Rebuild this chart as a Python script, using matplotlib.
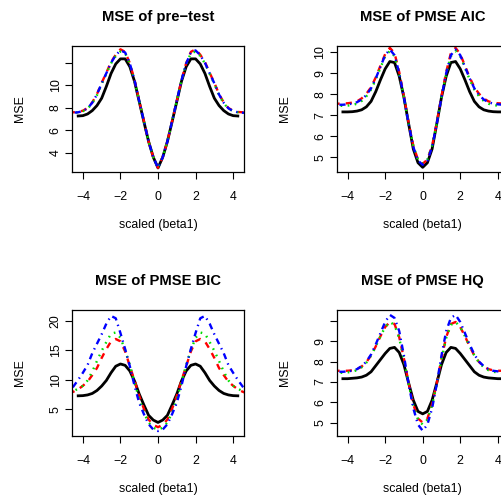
import numpy as np
import matplotlib.pyplot as plt

plt.rcParams['font.family'] = ['Liberation Sans', 'DejaVu Sans']

W, H = 502, 500

# grid of scaled beta1 values
x_full = np.linspace(-4.25, 4.25, 35)   # full model
x_wide = np.linspace(-4.75, 4.75, 39)   # selection-based estimators

# ---- pre-test ----
pre_full = [7.27, 7.3, 7.45, 7.75, 8.2, 8.85, 9.9, 11.05, 11.9, 12.35, 12.35, 11.65, 10.35, 8.55, 6.75, 5.0, 3.6,
            2.65,
            3.6, 5.0, 6.75, 8.55, 10.35, 11.65, 12.35, 12.35, 11.9, 11.05, 9.9, 8.85, 8.2, 7.75, 7.45, 7.3, 7.27]
pre_red = [7.6, 7.6, 7.63, 7.74, 7.98, 8.48, 9.22, 10.22, 11.12, 12.07, 12.72, 13.2, 12.97, 11.97, 10.47, 8.6, 6.8, 5.0, 3.6,
           2.66,
           3.6, 5.0, 6.8, 8.6, 10.47, 11.97, 12.97, 13.2, 12.72, 12.07, 11.12, 10.22, 9.22, 8.48, 7.98, 7.74, 7.63, 7.6, 7.6]
pre_green = [7.55, 7.55, 7.6, 7.7, 7.92, 8.4, 9.12, 10.12, 11.02, 11.95, 12.6, 13.0, 12.85, 11.9, 10.42, 8.6, 6.8, 5.0, 3.6,
             2.66,
             3.6, 5.0, 6.8, 8.6, 10.42, 11.9, 12.85, 13.0, 12.6, 11.95, 11.02, 10.12, 9.12, 8.4, 7.92, 7.7, 7.6, 7.55, 7.55]
pre_blue = [7.55, 7.56, 7.6, 7.71, 7.95, 8.45, 9.18, 10.18, 11.08, 12.0, 12.68, 13.1, 12.92, 11.93, 10.45, 8.6, 6.8, 5.0, 3.6,
            2.66,
            3.6, 5.0, 6.8, 8.6, 10.45, 11.93, 12.92, 13.1, 12.68, 12.0, 11.08, 10.18, 9.18, 8.45, 7.95, 7.71, 7.6, 7.56, 7.55]

# ---- PMSE AIC ----
aic_full = [7.16, 7.16, 7.17, 7.2, 7.26, 7.4, 7.66, 8.12, 8.68, 9.2, 9.55, 9.5, 8.85, 7.85, 6.6, 5.4, 4.75,
            4.53,
            4.75, 5.4, 6.6, 7.85, 8.85, 9.5, 9.55, 9.2, 8.68, 8.12, 7.66, 7.4, 7.26, 7.2, 7.17, 7.16, 7.16]
aic_red = [7.55, 7.55, 7.56, 7.57, 7.6, 7.66, 7.8, 8.02, 8.33, 8.8, 9.35, 9.9, 10.2, 9.95, 9.05, 7.9, 6.65, 5.55, 4.9,
           4.7,
           4.9, 5.55, 6.65, 7.9, 9.05, 9.95, 10.2, 9.9, 9.35, 8.8, 8.33, 8.02, 7.8, 7.66, 7.6, 7.57, 7.56, 7.55, 7.55]
aic_green = [7.45, 7.45, 7.45, 7.46, 7.48, 7.55, 7.68, 7.9, 8.22, 8.7, 9.25, 9.8, 10.05, 9.8, 8.95, 7.85, 6.6, 5.55, 4.9,
             4.7,
             4.9, 5.55, 6.6, 7.85, 8.95, 9.8, 10.05, 9.8, 9.25, 8.7, 8.22, 7.9, 7.68, 7.55, 7.48, 7.46, 7.45, 7.45, 7.45]
aic_blue = [7.5, 7.5, 7.5, 7.52, 7.55, 7.62, 7.75, 7.96, 8.28, 8.75, 9.3, 9.85, 10.12, 9.85, 9.0, 7.85, 6.6, 5.5, 4.85,
            4.65,
            4.85, 5.5, 6.6, 7.85, 9.0, 9.85, 10.12, 9.85, 9.3, 8.75, 8.28, 7.96, 7.75, 7.62, 7.55, 7.52, 7.5, 7.5, 7.5]

# ---- PMSE BIC ----
bic_full = [7.3, 7.33, 7.45, 7.7, 8.2, 8.95, 9.9, 11.2, 12.3, 12.68, 12.45, 11.5, 9.8, 7.6, 5.75, 4.0, 3.2,
            2.8,
            3.2, 4.0, 5.75, 7.6, 9.8, 11.5, 12.45, 12.68, 12.3, 11.2, 9.9, 8.95, 8.2, 7.7, 7.45, 7.33, 7.3]
bic_red = [7.7, 8.0, 8.4, 9.0, 9.7, 10.8, 12.0, 13.7, 15.2, 16.5, 16.9, 16.5, 14.8, 12.3, 9.9, 7.3, 5.1, 3.3, 2.4,
           2.0,
           2.4, 3.3, 5.1, 7.3, 9.9, 12.3, 14.8, 16.5, 16.9, 16.5, 15.2, 13.7, 12.0, 10.8, 9.7, 9.0, 8.4, 8.0, 7.7]
bic_green = [7.9, 8.1, 8.5, 9.0, 9.9, 11.4, 13.2, 14.9, 16.4, 17.8, 18.0, 17.1, 15.0, 12.5, 9.6, 6.7, 4.4, 2.8, 1.9,
             1.6,
             1.9, 2.8, 4.4, 6.7, 9.6, 12.5, 15.0, 17.1, 18.0, 17.8, 16.4, 14.9, 13.2, 11.4, 9.9, 9.0, 8.5, 8.1, 7.9]
bic_blue = [8.0, 8.9, 10.0, 11.2, 12.5, 14.5, 16.1, 17.7, 19.5, 20.8, 20.4, 17.9, 15.2, 12.3, 9.0, 6.1, 4.2, 2.5, 1.6,
            1.35,
            1.6, 2.5, 4.2, 6.1, 9.0, 12.3, 15.2, 17.9, 20.4, 20.8, 19.5, 17.7, 16.1, 14.5, 12.5, 11.2, 10.0, 8.9, 8.0]

# ---- PMSE HQ ----
hq_full = [7.16, 7.16, 7.18, 7.2, 7.24, 7.33, 7.5, 7.8, 8.1, 8.4, 8.65, 8.7, 8.45, 7.85, 6.95, 6.1, 5.55,
           5.43,
           5.55, 6.1, 6.95, 7.85, 8.45, 8.7, 8.65, 8.4, 8.1, 7.8, 7.5, 7.33, 7.24, 7.2, 7.18, 7.16, 7.16]
hq_red = [7.55, 7.55, 7.55, 7.55, 7.57, 7.63, 7.76, 7.98, 8.3, 8.75, 9.25, 9.7, 9.95, 9.85, 9.2, 8.15, 6.95, 5.9, 5.2,
          5.0,
          5.2, 5.9, 6.95, 8.15, 9.2, 9.85, 9.95, 9.7, 9.25, 8.75, 8.3, 7.98, 7.76, 7.63, 7.57, 7.55, 7.55, 7.55, 7.55]
hq_green = [7.45, 7.45, 7.45, 7.47, 7.5, 7.58, 7.72, 7.95, 8.3, 8.75, 9.25, 9.7, 9.95, 9.8, 9.15, 8.1, 6.9, 5.85, 5.15,
            4.9,
            5.15, 5.85, 6.9, 8.1, 9.15, 9.8, 9.95, 9.7, 9.25, 8.75, 8.3, 7.95, 7.72, 7.58, 7.5, 7.47, 7.45, 7.45, 7.45]
hq_blue = [7.5, 7.5, 7.5, 7.52, 7.55, 7.63, 7.78, 8.0, 8.35, 8.85, 9.4, 9.95, 10.3, 10.15, 9.5, 8.3, 6.9, 5.7, 4.9,
           4.6,
           4.9, 5.7, 6.9, 8.3, 9.5, 10.15, 10.3, 9.95, 9.4, 8.85, 8.35, 8.0, 7.78, 7.63, 7.55, 7.52, 7.5, 7.5, 7.5]

titles = ['MSE of pre\u2212test', 'MSE of PMSE AIC', 'MSE of PMSE BIC', 'MSE of PMSE HQ']
series = [(pre_full, pre_red, pre_green, pre_blue),
          (aic_full, aic_red, aic_green, aic_blue),
          (bic_full, bic_red, bic_green, bic_blue),
          (hq_full, hq_red, hq_green, hq_blue)]
ylims = [(2.29, 13.52), (4.31, 10.30), (0.51, 21.8), (4.34, 10.54)]
yticks = [[4, 6, 8, 10, 12], [5, 6, 7, 8, 9, 10], [5, 10, 15, 20], [5, 6, 7, 8, 9, 10]]
ylabels = [['4', '6', '8', '10', ''], ['5', '6', '7', '8', '9', '10'],
           ['5', '10', '15', '20'], ['5', '6', '7', '8', '9', '']]
xticks = [-4, -2, 0, 2, 4]

# plot regions in pixels: left, top, right, bottom
boxes = [(72, 45.7, 244, 172), (336.7, 45.7, 508.7, 172),
         (72, 310, 244, 436), (336.7, 310, 508.7, 436)]

fig = plt.figure(figsize=(W / 100, H / 100), dpi=100)

for i in range(4):
    l, t, r, b = boxes[i]
    ax = fig.add_axes([l / W, 1 - b / H, (r - l) / W, (b - t) / H])
    full, red, green, blue = series[i]
    ax.plot(x_full, full, color='black', lw=2.0)
    ax.plot(x_wide, red, color='#ff0000', lw=1.7, ls=(0, (2.6, 2.6)))
    ax.plot(x_wide, green, color='#00dd00', lw=1.7, ls=(0, (0.7, 2.3)))
    ax.plot(x_wide, blue, color='#0000ff', lw=1.7, ls=(0, (0.6, 1.9, 2.6, 1.9)))

    ax.set_xlim(-4.58, 4.58)
    ax.set_ylim(*ylims[i])
    ax.set_xticks(xticks)
    ax.set_yticks(yticks[i], ylabels[i])
    ax.tick_params(direction='out', length=4.8, width=0.8, labelsize=8.9, color='black')
    ax.tick_params(axis='x', pad=9)
    ax.tick_params(axis='y', pad=2.5, labelrotation=90)
    for lab in ax.get_yticklabels():
        lab.set_va('center')
    for sp in ax.spines.values():
        sp.set_linewidth(0.9)
        sp.set_color('black')

    ax.text(0.5, 1 + 29 / (b - t), titles[i], transform=ax.transAxes,
            ha='center', va='center', fontsize=10.6, fontweight='bold')
    ax.set_xlabel('scaled (beta1)', fontsize=8.9)
    ax.xaxis.set_label_coords(0.5, -53 / (b - t))
    ax.xaxis.label.set_va('center')
    ax.set_ylabel('MSE', fontsize=8.9)
    ax.yaxis.set_label_coords(-52 / (r - l), 0.5)
    ax.yaxis.label.set_va('center')

fig.savefig('out.png', dpi=100)
